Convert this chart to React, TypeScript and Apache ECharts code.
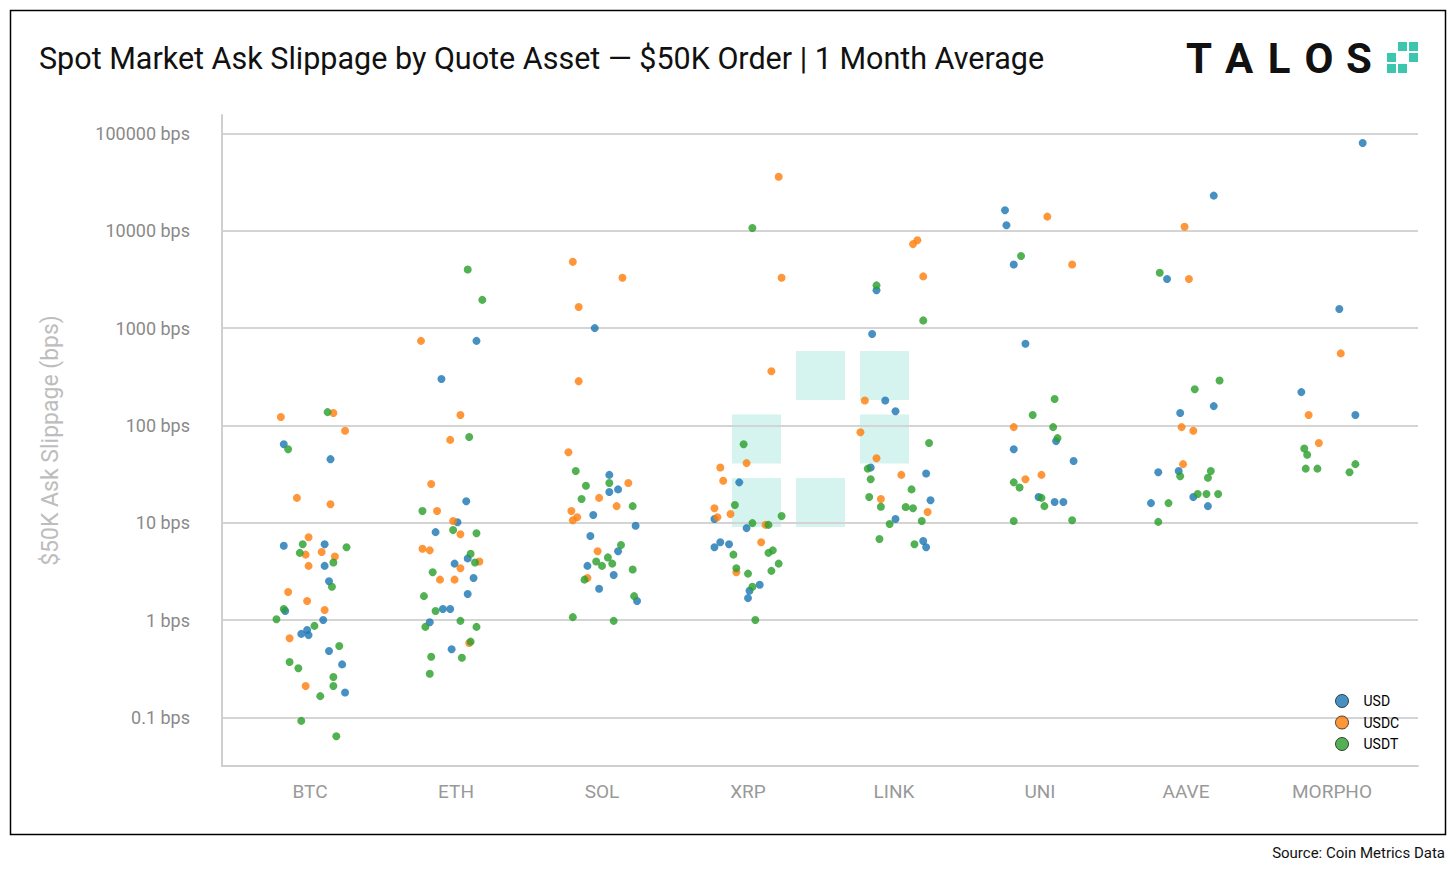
import { useEffect, useRef } from "react";
import * as echarts from "echarts";

const CATEGORIES = ["BTC", "ETH", "SOL", "XRP", "LINK", "UNI", "AAVE", "MORPHO"];

// per category: [horizontal jitter (category units), slippage bps]
const USD: [number, number][][] = [
  [[-0.18, 5.8], [-0.18, 64], [0.14, 45], [0.1, 6], [0.1, 3.6], [0.13, 2.5], [0.09, 1.0], [-0.06, 0.72], [-0.02, 0.79], [-0.01, 0.7], [0.13, 0.48], [0.22, 0.35], [0.24, 0.18], [-0.17, 1.24]],
  [[-0.1, 300], [0.14, 740], [0.07, 16.6], [0.01, 10.1], [-0.14, 8.0], [-0.01, 3.8], [0.08, 4.3], [0.12, 2.7], [0.08, 1.85], [-0.09, 1.3], [-0.04, 1.3], [-0.18, 0.95], [-0.03, 0.5]],
  [[-0.05, 1000], [0.05, 31], [0.05, 20.7], [0.11, 22], [-0.06, 12], [0.23, 9.3], [-0.08, 7.3], [0.11, 5.1], [-0.1, 3.6], [0.08, 2.9], [-0.02, 2.1], [0.24, 1.57]],
  [[-0.06, 26], [-0.23, 10.9], [-0.01, 8.8], [-0.23, 5.6], [-0.19, 6.3], [-0.13, 6.0], [0.08, 2.3], [0.01, 2.0], [0, 1.68]],
  [[-0.12, 2450], [-0.15, 870], [-0.06, 180], [0.01, 140], [-0.16, 37], [0.22, 32], [0.25, 17], [0.01, 10.9], [0.2, 6.5], [0.22, 5.6]],
  [[-0.24, 16300], [-0.23, 11400], [-0.18, 4500], [-0.1, 690], [0.11, 69], [-0.18, 57], [0.23, 43], [-0.01, 18.4], [0.1, 16.3], [0.16, 16.3]],
  [[0.19, 23000], [-0.13, 3200], [0.19, 158], [-0.04, 134], [-0.19, 33], [-0.05, 34], [0.05, 18.4], [-0.24, 15.9], [0.15, 14.8]],
  [[0.21, 80000], [0.05, 1570], [-0.21, 220], [0.16, 128]],
];

const USDC: [number, number][][] = [
  [[-0.2, 122], [0.16, 134], [0.24, 88], [-0.09, 18], [0.14, 15.5], [-0.01, 7.1], [-0.03, 4.7], [0.08, 5.0], [0.17, 4.5], [-0.01, 3.6], [-0.15, 1.94], [-0.02, 1.57], [0.1, 1.27], [-0.14, 0.65], [-0.03, 0.21]],
  [[-0.24, 740], [0.03, 128], [-0.04, 71], [-0.17, 25], [-0.13, 13.2], [-0.02, 10.4], [0.03, 7.6], [-0.23, 5.4], [-0.18, 5.2], [0.16, 4.0], [0.03, 3.4], [-0.11, 2.6], [-0.01, 2.6], [0.09, 0.58]],
  [[-0.2, 4800], [0.14, 3300], [-0.16, 1650], [-0.16, 285], [-0.23, 53], [0.18, 25.6], [-0.02, 18], [0.1, 14.8], [-0.21, 13.2], [-0.17, 11.4], [-0.2, 10.6], [-0.03, 5.1], [-0.1, 2.7]],
  [[0.21, 36000], [0.23, 3300], [0.16, 360], [-0.01, 41], [-0.19, 37], [-0.17, 27], [-0.23, 14.1], [-0.12, 12.3], [-0.21, 11.4], [0.12, 9.5], [0.09, 6.3], [-0.08, 3.1]],
  [[0.16, 8000], [0.13, 7300], [0.2, 3400], [-0.2, 180], [-0.23, 85], [-0.12, 46], [0.05, 31], [-0.09, 17.5], [0.23, 12.9]],
  [[0.05, 14000], [0.22, 4500], [-0.18, 96], [0.01, 31], [-0.1, 28]],
  [[-0.01, 11000], [0.02, 3200], [-0.03, 96], [0.05, 88], [-0.02, 40]],
  [[0.06, 550], [-0.16, 128], [-0.09, 66]],
];

const USDT: [number, number][][] = [
  [[0.12, 137], [-0.15, 57], [-0.05, 6.0], [-0.07, 4.9], [0.25, 5.6], [0.16, 3.9], [0.15, 2.2], [-0.18, 1.3], [-0.23, 1.02], [0.03, 0.87], [0.2, 0.54], [-0.14, 0.37], [-0.08, 0.32], [0.16, 0.26], [0.16, 0.21], [0.07, 0.165], [-0.06, 0.092], [0.18, 0.064]],
  [[0.08, 4000], [0.18, 1950], [0.09, 76], [-0.23, 13.2], [-0.02, 8.4], [0.14, 7.8], [0.1, 4.8], [0.13, 3.9], [-0.16, 3.1], [-0.22, 1.76], [-0.14, 1.24], [0.03, 0.98], [-0.21, 0.85], [0.14, 0.85], [0.1, 0.6], [-0.17, 0.42], [0.04, 0.41], [-0.18, 0.28]],
  [[-0.18, 34], [0.05, 25.6], [-0.11, 24], [-0.14, 17.5], [0.21, 14.8], [0.13, 5.9], [0.04, 4.4], [-0.04, 4.0], [0, 3.6], [0.07, 3.8], [0.21, 3.3], [-0.12, 2.6], [0.22, 1.76], [-0.2, 1.07], [0.08, 0.98]],
  [[0.03, 10700], [-0.03, 64], [-0.09, 15.2], [0.23, 11.7], [0.03, 9.9], [0.14, 9.5], [-0.1, 4.7], [0.17, 5.2], [0.14, 4.9], [0.21, 3.8], [-0.08, 3.4], [0, 3.0], [0.16, 3.2], [0.03, 2.2], [0.05, 1.0]],
  [[-0.12, 2750], [0.2, 1200], [0.24, 66], [-0.18, 36], [-0.16, 28], [0.12, 22], [-0.17, 18.4], [-0.09, 14.6], [0.08, 14.5], [0.13, 14.1], [-0.03, 9.7], [0.19, 10.4], [-0.1, 6.8], [0.14, 6.0]],
  [[-0.13, 5500], [0.1, 187], [-0.05, 128], [0.09, 96], [0.12, 74], [-0.18, 26], [-0.14, 23], [0.01, 18], [0.03, 14.8], [-0.18, 10.4], [0.22, 10.6]],
  [[-0.18, 3700], [0.23, 290], [0.06, 235], [-0.04, 30], [0.17, 34], [0.15, 29], [0.08, 19.7], [0.14, 19.7], [0.22, 19.7], [-0.12, 15.9], [-0.19, 10.2]],
  [[-0.19, 58], [-0.17, 50], [0.16, 40], [-0.18, 36], [-0.1, 36], [0.12, 33]],
];

const SERIES = [
  { name: "USD", color: "#1f77b4", data: USD },
  { name: "USDC", color: "#ff7f0e", data: USDC },
  { name: "USDT", color: "#2ca02c", data: USDT },
];

const FONT = "Roboto, 'Noto Sans', sans-serif";
const WATERMARK = "rgba(125, 220, 205, 0.32)";
const LOGO_GREEN = "#3cc6ad";

export default function App() {
  const ref = useRef<HTMLDivElement>(null);

  useEffect(() => {
    document.body.style.margin = "0";
    if (!ref.current) return;
    const chart = echarts.init(ref.current, undefined, { renderer: "svg" });

    // watermark pixels (col,row) and logo pixels share the same pattern
    const pix = [[0, 1], [1, 0], [2, 0], [2, 1], [0, 2], [1, 2]];
    const wm = pix.map(([c, r]) => ({
      type: "rect", z: -1,
      shape: { x: 732 + c * 64, y: 351 + r * 63.5, width: 49, height: 49 },
      style: { fill: WATERMARK },
    }));
    const logoPix = pix.map(([c, r]) => ({
      type: "rect",
      shape: { x: 1387 + c * 11, y: 42 + r * 11, width: 9, height: 9 },
      style: { fill: LOGO_GREEN },
    }));
    const letters = ["T", "A", "L", "O", "S"].map((ch, i) => ({
      type: "text",
      x: 1199 + i * 40, y: 58,
      style: { text: ch, font: `bold 42px ${FONT}`, fill: "#111", align: "center", verticalAlign: "middle" },
    }));

    chart.setOption({
      animation: false,
      textStyle: { fontFamily: FONT },
      grid: [
        { left: 222, right: 38, top: 115, bottom: 106 },
        { left: 237, right: 51, top: 115, bottom: 106 },
      ],
      xAxis: [
        {
          type: "value", gridIndex: 0, min: -0.603, max: 7.589,
          axisLine: { show: true, onZero: false, lineStyle: { color: "#cfcfcf", width: 2 } },
          axisTick: { show: false }, axisLabel: { show: false }, splitLine: { show: false },
        },
        {
          type: "category", gridIndex: 1, data: CATEGORIES,
          axisLine: { show: false }, axisTick: { show: false },
          axisLabel: { color: "#999", fontSize: 19, margin: 16 },
        },
      ],
      yAxis: [
        {
          type: "log", gridIndex: 0, logBase: 10, min: 0.0316, max: 155000,
          name: "$50K Ask Slippage (bps)", nameLocation: "middle", nameGap: 160,
          nameTextStyle: { color: "#bdbdbd", fontSize: 23 },
          axisLine: { show: true, onZero: false, lineStyle: { color: "#cfcfcf", width: 2 } },
          axisTick: { show: false },
          axisLabel: {
            color: "#8a8a8a", fontSize: 18, margin: 32, showMinLabel: false, showMaxLabel: false,
            formatter: (v: number) => `${Number(v.toPrecision(6))} bps`,
          },
          splitLine: { show: true, showMinLine: false, showMaxLine: false, lineStyle: { color: "#d4d4d4", width: 2 } },
        },
        { type: "value", gridIndex: 1, show: false },
      ],
      legend: {
        orient: "vertical", left: 1330, top: 689, itemWidth: 13, itemHeight: 13, itemGap: 7.5,
        icon: "circle", textStyle: { color: "#000", fontSize: 14, padding: [0, 0, 0, 10] },
        itemStyle: { borderColor: "#222", borderWidth: 1 },
        data: SERIES.map((s) => s.name),
      },
      series: SERIES.map((s) => ({
        name: s.name, type: "scatter", xAxisIndex: 0, yAxisIndex: 0,
        symbolSize: 8,
        itemStyle: { color: s.color, opacity: 0.82 },
        data: s.data.flatMap((pts, i) => pts.map(([j, v]) => [i + j, v])),
      })),
      graphic: [
        ...wm,
        {
          type: "rect", shape: { x: 10.5, y: 10.5, width: 1435, height: 824 },
          style: { fill: "none", stroke: "#000", lineWidth: 1.5 }, silent: true,
        },
        {
          type: "text", x: 39, y: 58,
          style: { text: "Spot Market Ask Slippage by Quote Asset — $50K Order | 1 Month Average", font: `30.5px ${FONT}`, fill: "#111", verticalAlign: "middle" },
        },
        ...letters,
        ...logoPix,
        {
          type: "text", x: 1445, y: 853,
          style: { text: "Source: Coin Metrics Data", font: `15px ${FONT}`, fill: "#111", align: "right", verticalAlign: "middle" },
        },
      ],
    });
    return () => chart.dispose();
  }, []);

  return <div ref={ref} style={{ width: 1456, height: 872, background: "#fff" }} />;
}
